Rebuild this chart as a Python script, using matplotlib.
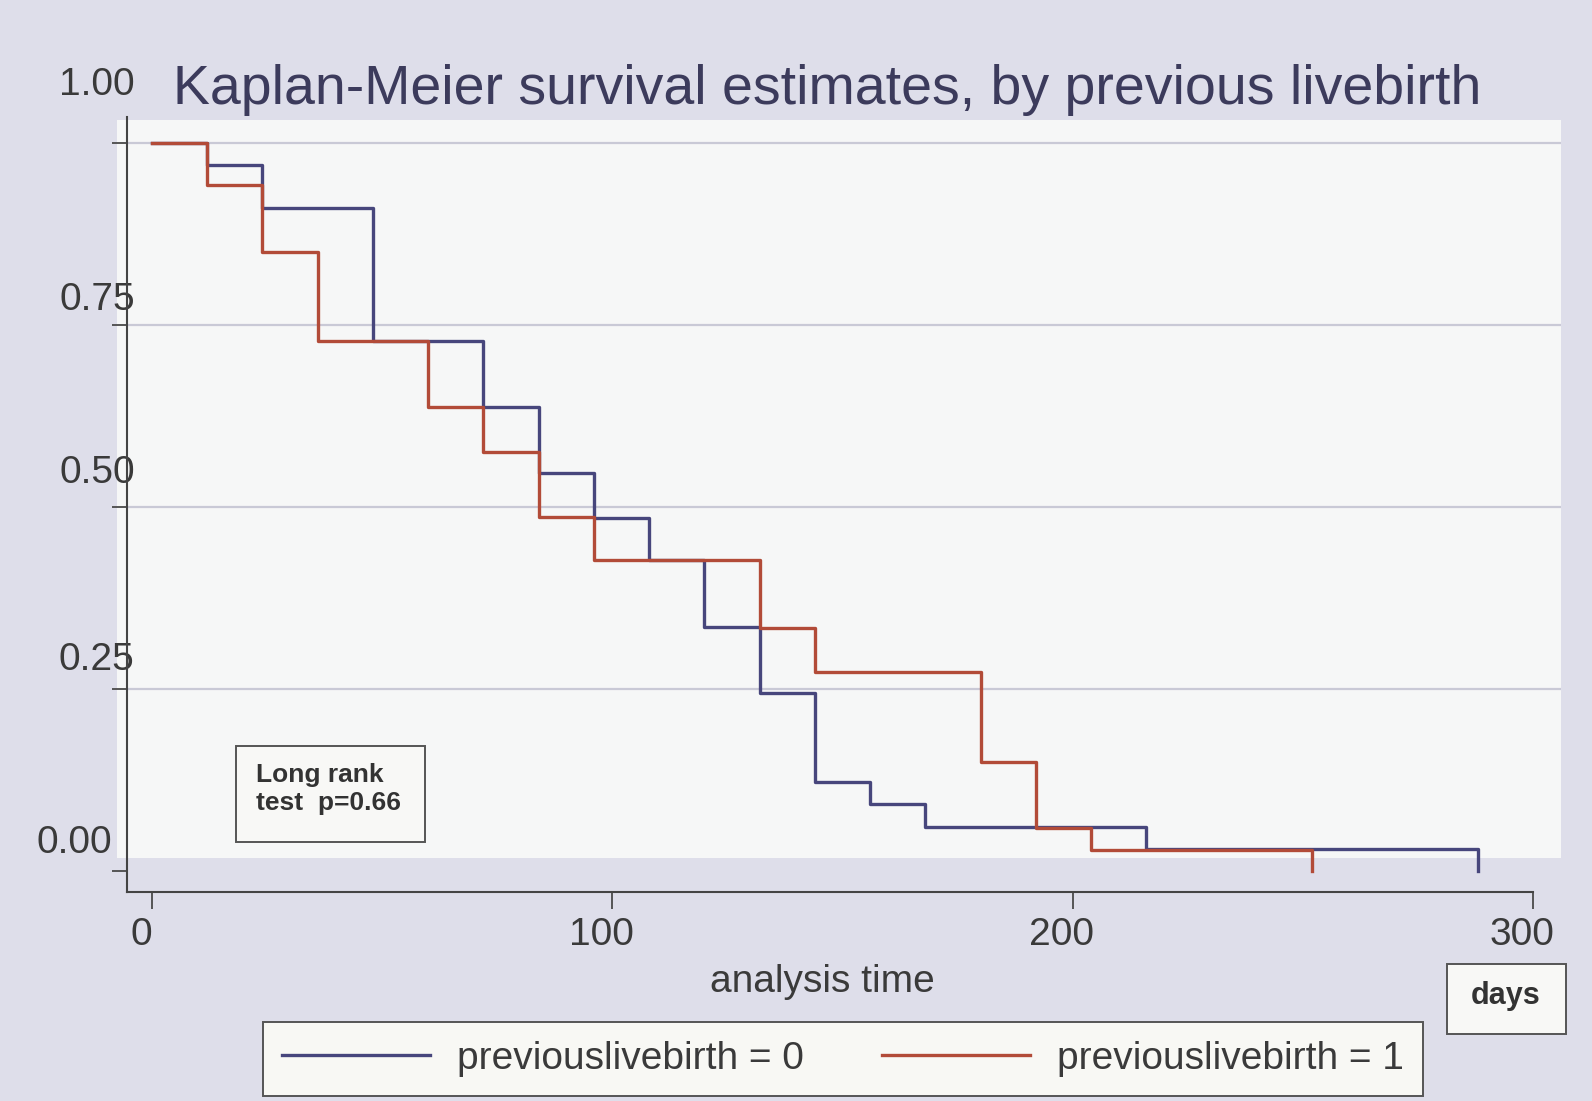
import numpy as np
import matplotlib
matplotlib.use('Agg')
import matplotlib.pyplot as plt
from matplotlib.patches import Rectangle
from matplotlib.transforms import ScaledTranslation

plt.rcParams['font.family'] = ['Liberation Sans', 'DejaVu Sans']

# KM estimates (time in days, survival after the step)
t_plb0 = [0, 12, 24, 48, 72, 84, 96, 108, 120, 132, 144, 156, 168, 216, 288]
s_plb0 = [1.0, 0.970, 0.911, 0.728, 0.637, 0.547, 0.485, 0.427, 0.335, 0.244,
          0.122, 0.092, 0.060, 0.030, 0.0]
t_plb1 = [0, 12, 24, 36, 60, 72, 84, 96, 132, 144, 180, 192, 204, 252]
s_plb1 = [1.0, 0.942, 0.850, 0.728, 0.637, 0.576, 0.486, 0.427, 0.334, 0.273,
          0.150, 0.059, 0.029, 0.0]

xticks = [0, 100, 200, 300]
yticks = [0.0, 0.25, 0.5, 0.75, 1.0]
ytick_labels = ['0.00', '0.25', '0.50', '0.75', '1.00']
# the scanned labels sit oddly off their ticks (px, right/up)
ylab_shift = [(0, 32), (23, 33), (23, 38), (23, 29), (23, 62)]

col_0 = '#47467c'
col_1 = '#b24b38'
dark = '#3a3a3a'

W, H = 1592, 1101


def fx(x):
    return x / W


def fy(y):
    return 1 - y / H


fig = plt.figure(figsize=(W / 100, H / 100), dpi=100, facecolor='#dedeea')

# lighter plot region of the scan
fig.patches.append(Rectangle((fx(117), fy(858)), (1561 - 117) / W, (858 - 120) / H,
                             transform=fig.transFigure, facecolor='#f6f7f7',
                             edgecolor='none', zorder=-1))

ax = fig.add_axes([fx(127), fy(892), (1561 - 127) / W, (892 - 117) / H])
ax.patch.set_visible(False)

ax.step(t_plb0, s_plb0, where='post', color=col_0, lw=2.4, label='previouslivebirth = 0')
ax.step(t_plb1, s_plb1, where='post', color=col_1, lw=2.4, label='previouslivebirth = 1')

ax.set_xlim(-5.43, 306.1)
ax.set_ylim(-0.0288, 1.0357)

for s in ['top', 'right']:
    ax.spines[s].set_visible(False)
for s in ['left', 'bottom']:
    ax.spines[s].set_color('#444444')
    ax.spines[s].set_linewidth(1.5)
ax.spines['bottom'].set_bounds(-5.43, 300)

ax.set_xticks(xticks)
ax.set_xticklabels([str(v) for v in xticks])
ax.set_yticks(yticks)
ax.set_yticklabels(ytick_labels)
ax.tick_params(axis='both', direction='out', length=11, width=1.4, color='#555555',
               labelsize=28, labelcolor=dark)
ax.tick_params(axis='x', length=12, pad=6)
ax.tick_params(axis='y', pad=0)

for lab in ax.get_xticklabels():
    lab.set_transform(lab.get_transform() + ScaledTranslation(-0.11, 0, fig.dpi_scale_trans))
for lab, (dx, dy) in zip(ax.get_yticklabels(), ylab_shift):
    lab.set_transform(lab.get_transform() + ScaledTranslation(dx / 100, dy / 100, fig.dpi_scale_trans))

ax.yaxis.grid(True, color='#c9c9d6', lw=1.6)
ax.yaxis.get_gridlines()[0].set_visible(False)
ax.set_axisbelow(True)

fig.text(fx(173), fy(104), 'Kaplan-Meier survival estimates, by previous livebirth',
         fontsize=40, color='#3c3b5c', ha='left', va='baseline')

fig.text(fx(822), fy(982), 'analysis time', fontsize=28, color=dark, ha='center', va='center')

# log rank box
fig.patches.append(Rectangle((fx(236), fy(842)), (425 - 236) / W, (842 - 746) / H,
                             transform=fig.transFigure, facecolor='#f8f8f6',
                             edgecolor='#555555', lw=1.4))
fig.text(fx(256), fy(789), 'Long rank\ntest  p=0.66', fontsize=19, fontweight='bold',
         color='#333333', ha='left', va='center', linespacing=1.2)

# days box
fig.patches.append(Rectangle((fx(1447), fy(1034)), (1566 - 1447) / W, (1034 - 964) / H,
                             transform=fig.transFigure, facecolor='#f8f8f6',
                             edgecolor='#555555', lw=1.4))
fig.text(fx(1506), fy(996), 'days', fontsize=22, fontweight='bold', color='#333333',
         ha='center', va='center')

leg = fig.legend(loc='center', bbox_to_anchor=(fx(843), fy(1059)), ncol=2,
                 fontsize=28, frameon=True, fancybox=False, handlelength=3.8,
                 handletextpad=0.7, columnspacing=2.0, borderpad=0.5,
                 borderaxespad=0)
leg.get_frame().set_facecolor('#f8f8f4')
leg.get_frame().set_edgecolor('#555555')
leg.get_frame().set_linewidth(1.4)
leg.get_frame().set_alpha(1)
for t in leg.get_texts():
    t.set_color(dark)

fig.savefig('out.png', dpi=100, facecolor=fig.get_facecolor())
